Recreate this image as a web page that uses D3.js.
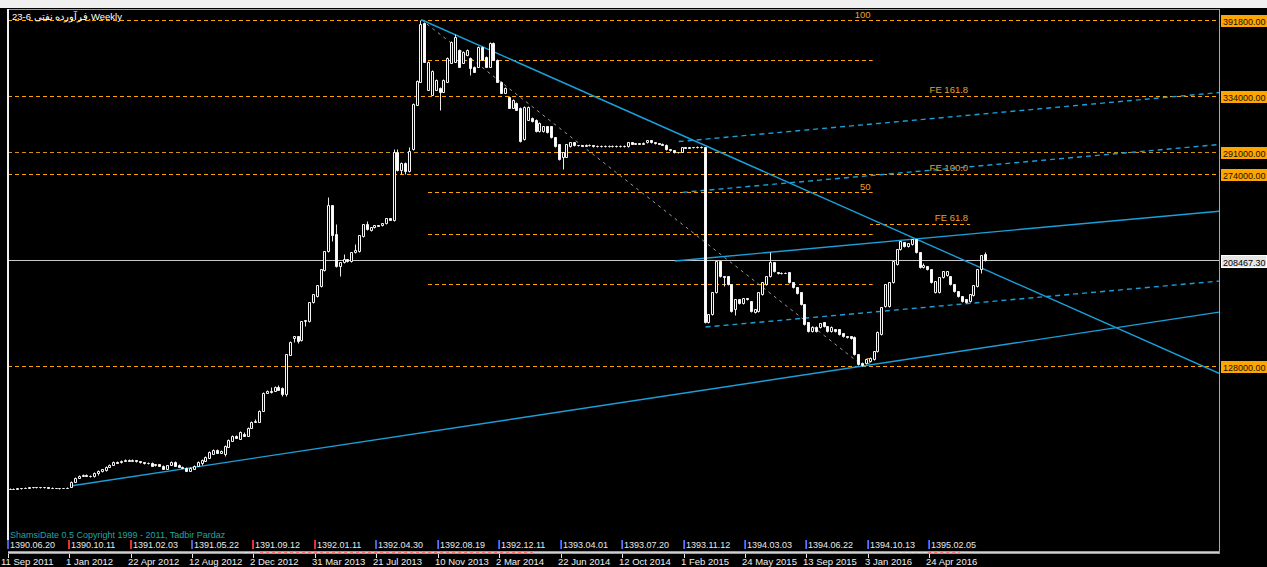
<!DOCTYPE html>
<html><head><meta charset="utf-8">
<script src="https://cdnjs.cloudflare.com/ajax/libs/d3/7.8.5/d3.min.js"></script>
<style>html,body{margin:0;padding:0;background:#fff;overflow:hidden}svg{display:block}</style>
</head><body><svg id="c" width="1267" height="567"></svg>
<script>
// ---- DATA (prices in thousands of rials, weekly bars from 11 Sep 2011) ----
const open = [34.4,34.5,34.6,34.5,34.8,34.9,35.3,35.6,35.8,35.6,35.8,35.5,35.3,35.0,35.1,34.9,35.2,36.0,39.8,42.9,44.4,45.1,44.4,44.0,46.7,48.2,48.6,51.2,52.7,55.0,54.6,55.8,56.5,56.0,56.3,55.4,54.6,53.9,54.3,52.4,53.1,52.0,49.9,52.7,55.0,52.7,51.2,50.5,48.2,49.7,52.0,54.0,55.8,58.1,61.1,64.1,61.9,61.1,66.4,71.0,74.8,72.5,76.4,75.0,80.9,85.4,85.4,93.8,107.5,109.0,109.0,112.0,111.3,106.7,136.4,149.3,150.8,147.8,162.2,162.2,176.7,181.2,188.8,201.0,215.4,250.4,228.4,204.0,207.1,209.3,207.8,214.7,215.4,226.8,236.0,231.4,233.7,235.2,235.2,236.7,240.5,239.0,291.4,277.0,283.0,276.2,293.0,327.2,344.7,389.5,338.6,334.8,338.6,340.1,337.1,344.7,359.1,359.9,369.0,359.1,365.2,362.9,356.1,356.1,371.3,363.7,356.1,374.3,361.4,344.7,336.3,333.3,324.9,328.7,324.9,300.6,315.8,317.3,315.8,306.7,306.7,310.5,310.5,302.1,296.8,286.9,287.6,295.3,298.3,296.0,296.3,295.8,296.5,296.0,295.5,295.8,295.3,295.6,295.8,295.4,295.6,295.9,295.3,298.3,297.5,297.8,297.2,298.3,299.9,298.5,297.8,297.5,296.5,293.0,292.2,290.7,291.4,294.5,294.2,294.8,294.5,295.0,294.5,161.5,167.5,184.3,207.8,196.4,196.4,190.3,171.3,178.9,175.9,179.7,177.4,169.1,169.8,182.7,190.3,196.4,207.1,199.5,198.7,199.2,199.5,191.9,188.1,184.3,175.1,161.5,154.6,157.7,157.7,161.5,158.4,154.6,156.1,156.1,153.1,150.8,150.8,150.1,137.1,130.3,130.3,131.8,133.3,139.4,152.3,173.6,173.6,191.9,205.5,216.9,222.3,219.2,220.8,224.6,214.7,203.3,204.0,201.7,184.3,184.3,195.7,197.2,196.4,190.3,185.0,181.2,178.9,177.4,182.0,188.8,201.7,213.1];
const high = [34.8,34.9,34.8,35.0,35.2,35.6,35.9,36.1,36.0,36.1,36.0,35.7,35.5,35.4,35.3,35.4,35.7,40.3,43.6,45.1,45.9,45.5,44.8,47.0,48.6,49.7,51.6,53.1,55.4,55.4,56.1,56.9,56.9,56.9,56.7,55.8,55.0,54.8,54.7,53.5,53.5,52.4,52.8,55.4,55.4,53.1,51.6,50.9,50.9,52.4,55.4,56.9,59.2,63.0,64.5,64.5,63.8,67.5,72.1,75.2,75.6,78.2,77.8,81.3,85.8,87.7,94.2,107.9,109.4,112.0,112.4,113.6,111.7,137.5,146.7,151.2,151.2,162.6,163.4,177.1,183.1,190.0,202.1,215.8,256.5,250.8,236.0,207.5,213.1,209.7,215.1,220.8,228.0,236.4,238.2,234.1,235.6,235.6,237.1,240.9,240.9,293.0,293.0,283.4,283.4,294.5,328.3,345.8,391.8,389.9,360.3,353.4,346.6,340.5,346.6,363.3,375.5,381.2,369.4,367.9,369.4,363.3,356.5,371.7,371.7,364.1,374.7,374.7,361.8,345.1,340.5,333.7,331.4,329.1,325.3,326.1,326.1,317.7,316.2,313.9,310.9,310.9,310.9,302.5,297.2,291.1,297.2,298.7,298.7,296.7,296.7,296.9,296.9,296.4,296.2,296.2,296.0,296.2,296.2,296.0,296.3,296.3,298.7,298.7,298.2,298.2,298.3,300.3,300.3,298.9,298.2,297.9,296.9,293.4,292.6,291.4,294.9,294.9,295.2,295.2,295.4,295.4,294.9,167.9,184.7,208.2,208.2,196.8,196.8,190.7,179.3,179.3,180.1,180.1,177.8,171.7,184.7,192.3,196.8,214.7,207.5,199.9,199.6,199.6,199.9,192.3,188.5,184.7,175.5,161.9,158.1,158.1,161.1,161.9,158.8,158.1,156.5,156.5,153.5,151.2,151.2,150.5,137.5,130.7,133.7,134.5,139.8,154.3,173.3,190.7,192.3,208.2,217.3,223.4,222.7,221.9,225.0,225.0,215.1,206.5,204.4,202.1,193.0,196.1,200.6,200.6,196.8,190.7,185.4,181.6,179.3,183.1,190.0,202.1,212.8,214.7];
const low = [34.2,34.3,34.2,34.3,34.6,34.7,35.1,35.4,35.3,35.4,35.2,35.0,34.8,34.8,34.6,34.7,35.0,35.8,39.4,42.5,44.0,44.0,43.4,43.6,45.1,47.6,48.2,50.8,52.3,53.9,54.2,55.4,55.6,55.6,55.0,54.2,53.5,53.5,51.6,52.0,51.6,49.3,49.5,52.3,51.6,50.8,50.1,47.8,47.8,49.3,51.6,52.7,55.4,57.7,60.7,61.5,61.5,59.6,66.0,70.6,72.9,72.1,74.6,74.6,80.5,85.0,85.0,93.4,107.1,107.8,108.6,109.4,105.2,105.2,136.0,146.3,145.5,147.4,158.4,161.8,176.3,180.8,188.4,200.6,215.0,223.0,203.6,196.4,206.7,207.4,207.4,214.3,215.0,226.4,231.8,231.0,233.3,234.6,234.8,236.3,239.0,238.6,276.6,274.0,274.0,275.8,292.6,326.8,344.3,359.5,338.2,334.4,338.2,323.4,336.7,344.3,358.7,359.5,355.7,358.7,364.8,350.0,351.9,355.7,361.0,355.7,355.7,361.0,344.3,335.9,335.9,324.5,324.5,323.0,298.7,300.2,315.4,313.9,306.3,306.3,306.3,305.5,301.7,294.9,285.0,277.8,287.2,294.9,295.6,295.6,295.4,295.4,295.6,295.1,295.1,294.9,294.9,295.2,295.0,295.0,295.2,295.1,294.9,297.1,297.1,296.8,296.8,297.9,298.1,297.4,297.1,296.1,292.6,292.1,290.3,290.3,291.0,293.8,293.8,294.1,294.1,294.1,161.1,161.1,167.1,183.9,196.0,188.8,189.9,169.4,166.8,175.5,175.5,178.5,169.4,168.7,169.4,182.3,189.9,196.0,199.8,198.3,198.3,198.6,191.5,187.7,183.1,174.7,159.5,154.2,154.2,154.2,157.3,158.0,154.2,154.2,154.2,151.9,150.4,149.7,148.9,136.7,129.1,128.0,129.9,131.4,132.9,139.0,151.9,173.2,173.2,191.5,205.1,216.5,218.8,218.8,220.4,214.3,202.9,202.9,201.3,191.5,183.9,183.9,195.3,196.8,189.9,184.6,180.8,177.0,176.3,177.0,181.6,188.4,199.0,208.0];
const close = [34.5,34.6,34.5,34.8,34.9,35.3,35.6,35.8,35.6,35.8,35.5,35.3,35.0,35.1,34.9,35.2,35.4,39.8,42.9,44.4,45.1,44.4,43.9,46.7,48.2,49.3,51.2,52.7,55.0,54.3,55.8,56.5,56.0,56.5,55.4,54.6,53.9,54.4,52.0,53.1,52.0,49.7,52.4,55.0,52.0,51.2,50.5,48.2,50.5,52.0,55.0,56.5,58.8,62.6,64.1,61.9,63.4,67.1,71.7,74.8,73.3,77.8,75.0,80.9,85.4,86.2,93.8,107.5,109.0,108.2,112.0,109.8,106.7,137.1,146.3,150.8,147.0,162.2,163.0,176.7,182.7,189.6,201.7,215.4,250.4,227.6,204.0,207.1,209.3,207.8,214.7,216.2,227.6,236.0,232.2,233.7,235.2,235.0,236.7,240.5,239.4,291.4,277.0,283.0,276.2,292.0,327.9,345.4,388.8,359.9,359.9,353.0,346.2,337.1,346.2,362.9,375.1,378.9,356.1,367.5,369.0,355.3,352.3,371.3,361.4,356.1,374.3,361.4,344.7,336.3,340.1,324.9,331.0,323.4,299.1,325.7,325.7,314.3,306.7,313.5,310.5,305.9,302.1,295.3,285.4,290.7,296.8,298.3,296.0,296.3,295.8,296.5,296.0,295.5,295.8,295.3,295.6,295.8,295.4,295.6,295.9,295.5,298.3,297.5,297.8,297.2,297.9,299.9,298.5,297.8,297.5,296.5,293.0,292.5,290.7,291.0,294.5,294.2,294.8,294.5,295.0,294.5,161.5,167.5,184.3,207.8,196.4,195.7,190.3,169.8,178.9,175.9,179.7,178.9,169.8,171.3,184.3,191.9,196.4,207.1,200.2,198.7,199.2,199.0,191.9,188.1,183.5,175.1,159.9,154.6,157.7,154.6,160.7,158.4,154.6,157.7,154.6,152.3,150.8,150.1,149.3,137.1,129.5,128.8,133.3,134.1,139.4,153.9,172.9,190.3,191.9,207.8,216.9,223.0,219.2,221.5,224.6,214.7,203.3,204.8,201.7,191.9,192.6,195.7,200.2,200.2,190.3,185.0,181.2,177.4,176.7,182.7,189.6,201.7,212.4,208.4673];

const gregLabels = ["11 Sep 2011","1 Jan 2012","22 Apr 2012","12 Aug 2012","2 Dec 2012","31 Mar 2013","21 Jul 2013","10 Nov 2013","2 Mar 2014","22 Jun 2014","12 Oct 2014","1 Feb 2015","24 May 2015","13 Sep 2015","3 Jan 2016","24 Apr 2016"];
const shamsiLabels = ["1390.06.20","1390.10.11","1391.02.03","1391.05.22","1391.09.12","1392.01.11","1392.04.30","1392.08.19","1392.12.11","1393.04.01","1393.07.20","1393.11.12","1394.03.03","1394.06.22","1394.10.13","1395.02.05"];
const labelEvery = 16; // bars between date labels

const hLevels = [391.8, 334.0, 291.0, 274.0, 128.0];  // horizontal lines (k)
const lastPrice = 208.4673;

// Fibonacci retracement between the peak and the low
const fibAnchors = [[108, 391.8], [223, 128.0]];
const fibEndBar = 225.5;
const fibLevels = [0, 23.6, 38.2, 50, 61.8, 88.6, 100];
const fibTexts = ["0", "", "", "50", "", "", "100"];

// Fibonacci expansion levels
const feNames = ["FE 61.8", "FE 100.0", "FE 161.8"];
const feValues = [236.9, 274.0, 334.0];
const feBars = [224.8, 250.9];

// Trend lines: [bar, value] anchors; rays go to the right edge
const trendSolid = [
  [[17, 36.8], [223, 128.0]],
  [[108, 391.8], [236, 225.8]],
  [[174, 208.0], [236, 224.6]]
];
const trendDashed = [
  [[182, 157.7], [250, 175.5]],
  [[176, 260.3], [250, 279.6]],
  [[175, 299.0], [250, 318.9]]
];
const diagonal = [[108, 391.8], [223, 128.0]];

// ---- DRAWING ----
const W = 1267, H = 567;
const L = 8, R = 1219, T = 10, B = 551;
const FONT = "'Liberation Sans', Arial, sans-serif";
const svg = d3.select("#c");
svg.append("rect").attr("width", W).attr("height", H).attr("fill", "#000");
svg.append("rect").attr("width", W).attr("height", 8).attr("fill", "#f0f0f0");

const xs = d3.scaleLinear().domain([0, close.length - 1]).range([6.7, 985.9]);
const ys = d3.scaleLinear().domain([128, 391.8]).range([366, 19.75]);
const xMaxBar = xs.invert(R);
const py = v => Math.round(ys(v)) + 0.5;
const pyEven = v => 2 * Math.round(ys(v) / 2) + 0.5;   // keep thin coloured rules on even rows
const DASH = 7; // dash period (4 on, 3 off)
const phase = x => ((Math.round(x) - L) % DASH + DASH) % DASH;

svg.append("defs").append("clipPath").attr("id", "clip")
  .append("rect").attr("x", L + 1).attr("y", T).attr("width", R - L - 1).attr("height", B - T);
const plot = svg.append("g").attr("clip-path", "url(#clip)");

const ORANGE = "#FFA500", BLUE = "#1a9fd9", LABEL = "#e8a030";

// horizontal full-width lines
plot.selectAll("line.hl").data(hLevels).join("line").attr("class", "hl")
  .attr("x1", L).attr("x2", R).attr("y1", d => pyEven(d)).attr("y2", d => pyEven(d))
  .style("stroke", d => d === 291.0 ? "#d09010" : ORANGE).style("stroke-dasharray", "4,3");

// fibonacci retracement
const fibVal = p => fibAnchors[1][1] + (fibAnchors[0][1] - fibAnchors[1][1]) * p / 100;
const fx1 = Math.round(xs(fibAnchors[0][0] + 1));
plot.selectAll("line.fibl").data(fibLevels).join("line").attr("class", "fibl")
  .attr("x1", fx1).attr("x2", xs(fibEndBar))
  .attr("y1", d => pyEven(fibVal(d))).attr("y2", d => pyEven(fibVal(d)))
  .style("stroke", ORANGE).style("stroke-dasharray", "4,3").style("stroke-dashoffset", phase(fx1));
plot.selectAll("text.fibt").data(fibLevels).join("text").attr("class", "fibt")
  .attr("x", xs(fibEndBar) - 2).attr("y", d => pyEven(fibVal(d)) - 3)
  .attr("text-anchor", "end").style("fill", LABEL)
  .style("font", `9.5px ${FONT}`).text((d, i) => fibTexts[i]);

// fibonacci expansion
const ex1 = Math.round(xs(feBars[0]));
plot.selectAll("line.fel").data(feValues).join("line").attr("class", "fel")
  .attr("x1", ex1).attr("x2", xs(feBars[1]))
  .attr("y1", d => pyEven(d)).attr("y2", d => pyEven(d))
  .style("stroke", ORANGE).style("stroke-dasharray", "4,3").style("stroke-dashoffset", phase(ex1));
plot.selectAll("text.fet").data(feValues).join("text").attr("class", "fet")
  .attr("x", xs(feBars[1]) - 2).attr("y", d => pyEven(d) - 4)
  .attr("text-anchor", "end").style("fill", LABEL)
  .style("font", `9.5px ${FONT}`).text((d, i) => feNames[i]);

// current price line
plot.append("line").attr("x1", L).attr("x2", R)
  .attr("y1", py(lastPrice)).attr("y2", py(lastPrice)).style("stroke", "#c8c8c8");

// dotted diagonal
plot.append("line")
  .attr("x1", xs(diagonal[0][0])).attr("y1", ys(diagonal[0][1]))
  .attr("x2", xs(diagonal[1][0])).attr("y2", ys(diagonal[1][1]))
  .style("stroke", "#9a9a9a").style("stroke-dasharray", "3,4");

// trend lines (rays)
function ray(a, b) {
  const s = (b[1] - a[1]) / (b[0] - a[0]);
  return [[xs(a[0]), ys(a[1])], [xs(xMaxBar), ys(a[1] + s * (xMaxBar - a[0]))]];
}
plot.selectAll("path.ts").data(trendSolid).join("path").attr("class", "ts")
  .attr("d", d => d3.line()(ray(d[0], d[1]))).style("stroke", BLUE).style("stroke-width", 1.4).style("fill", "none");
plot.selectAll("path.td").data(trendDashed).join("path").attr("class", "td")
  .attr("d", d => d3.line()(ray(d[0], d[1]))).style("stroke", BLUE).style("stroke-width", 1.4)
  .style("stroke-dasharray", "5,4").style("fill", "none");

// candles
const bars = d3.range(close.length).map(i => ({ i, o: open[i], h: high[i], l: low[i], c: close[i] }));
const cg = plot.append("g").selectAll("g.bar").data(bars).join("g").attr("class", "bar");
cg.append("line")
  .attr("x1", d => Math.round(xs(d.i)) - 0.5).attr("x2", d => Math.round(xs(d.i)) - 0.5)
  .attr("y1", d => py(d.h)).attr("y2", d => py(d.l)).style("stroke", "#e8e8e8");
cg.append("path")
  .attr("d", d => {
    const cx = Math.round(xs(d.i));
    const y1 = py(Math.max(d.o, d.c)), y2 = py(Math.min(d.o, d.c));
    return `M${cx - 1.5},${y1}H${cx + 0.5}V${y2}H${cx - 1.5}Z`;
  })
  .style("fill", d => d.c >= d.o ? "#000" : "#fff")
  .style("stroke", "#f4f4f4");

// frame
svg.append("line").attr("x1", L).attr("x2", R).attr("y1", T - 0.5).attr("y2", T - 0.5).style("stroke", "#9a9a9a");
svg.append("line").attr("x1", R + 0.5).attr("x2", R + 0.5).attr("y1", T - 1).attr("y2", B + 3).style("stroke", "#a8a8a8");
svg.append("rect").attr("x", 7).attr("y", T - 1).attr("width", 2).attr("height", B - T - 2).style("fill", "#f0f0f0");
svg.append("rect").attr("x", L).attr("y", B).attr("width", R - L + 1).attr("height", 3).style("fill", "#9a9a9a");
svg.append("line").attr("x1", L).attr("x2", R).attr("y1", B + 1.5).attr("y2", B + 1.5).style("stroke", "#d0d0d0");

// right axis labels
const ax = svg.append("g");
hLevels.forEach(v => {
  const y = Math.round(pyEven(v));
  ax.append("rect").attr("x", 1221).attr("y", y - 6).attr("width", 46).attr("height", 12).style("fill", ORANGE);
  ax.append("text").attr("x", 1223).attr("y", y + 4).style("fill", "#1a1000")
    .style("font", `9px ${FONT}`).text((v * 1000).toFixed(2));
});
{
  const y = Math.round(py(lastPrice));
  ax.append("rect").attr("x", 1221.5).attr("y", y - 5.5).attr("width", 45).attr("height", 12)
    .style("fill", "#e4e4e4").style("stroke", "#ffffff");
  ax.append("text").attr("x", 1223).attr("y", y + 5).style("fill", "#000")
    .style("font", `9px ${FONT}`).text((lastPrice * 1000).toFixed(2));
}

// title
svg.append("text").attr("x", 12).attr("y", 20).style("fill", "#fff")
  .style("font", `9.5px ${FONT}`).text("23-6 فرآورده نفتی,Weekly");

// copyright
svg.append("text").attr("x", 10).attr("y", 538).style("fill", "#1fa5a5")
  .style("font", `9px ${FONT}`).text("ShamsiDate 0.5 Copyright 1999 - 2011, Tadbir Pardaz");

// date axis
const ticks = d3.range(gregLabels.length).map(k => k * labelEvery);
const da = svg.append("g");
ticks.forEach((b, k) => {
  const x = Math.round(xs(b));
  da.append("rect").attr("x", x).attr("y", 540).attr("width", 1).attr("height", 9).style("fill", k < 7 ? "#e03030" : "#3050e0");
  da.append("rect").attr("x", x + 1).attr("y", 540).attr("width", 1).attr("height", 9).style("fill", k < 7 ? "#5060d0" : "#6070ff");
  da.append("text").attr("x", x + 3).attr("y", 548).style("fill", "#e8e8e8")
    .style("font", `9px ${FONT}`).text(shamsiLabels[k]);
  da.append("rect").attr("x", x + 1).attr("y", 554).attr("width", 1).attr("height", 4).style("fill", "#e8e8e8");
  da.append("text").attr("x", k === 0 ? 1 : x - 2).attr("y", 565).style("fill", "#f0f0f0")
    .style("font", `9.5px ${FONT}`).text(gregLabels[k]);
});
// marker ranges on the time line
const markRanges = [[62, 66, "#e0e0e0"], [66, 137.5, "#ff6a6a"], [232.5, 240, "#e0e0e0"], [240, 248.2, "#ff6a6a"]];
markRanges.forEach(r => {
  da.append("line").attr("x1", xs(r[0])).attr("x2", xs(r[1])).attr("y1", 552.5).attr("y2", 552.5)
    .style("stroke", r[2]).style("stroke-dasharray", "3,3");
});
</script></body></html>
